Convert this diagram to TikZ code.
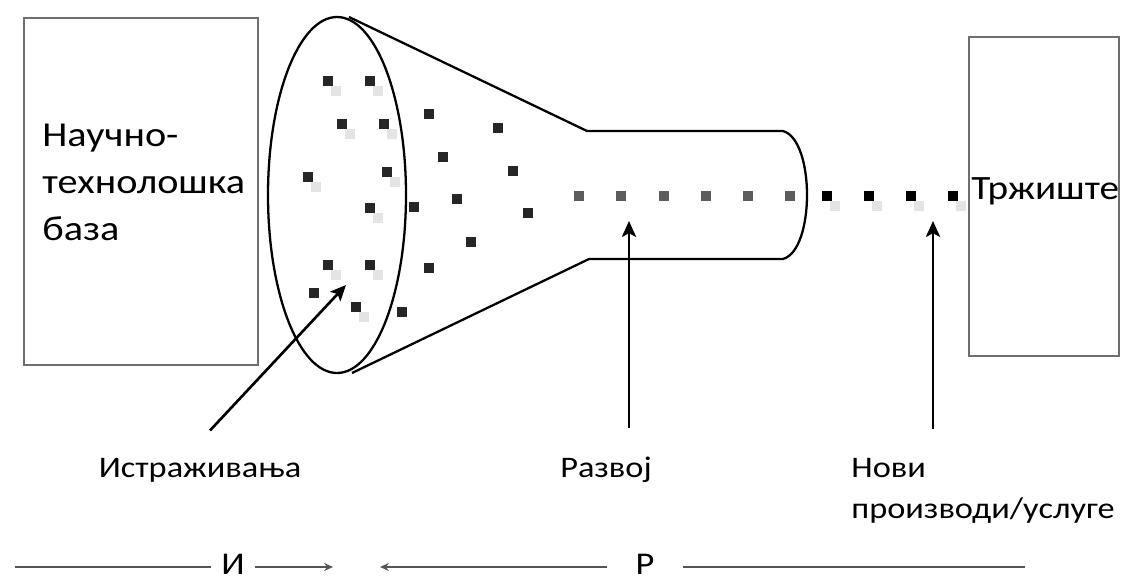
\documentclass[tikz,border=0pt]{standalone}
\usepackage{fontspec}
\setmainfont{Carlito}[FakeStretch=1.15]
\usepackage{tikz}
\usetikzlibrary{arrows.meta, positioning}
\definecolor{boxgray}{HTML}{6E6E6E}
\definecolor{dotdark}{HTML}{262626}
\definecolor{dotmid}{HTML}{5C5C5C}
\definecolor{ghost}{HTML}{E4E4E4}
\definecolor{rulegray}{HTML}{555555}

\begin{document}
\begin{tikzpicture}[x=0.02cm, y=-0.02cm,
    frame/.style={draw=boxgray, line width=0.8pt, inner sep=0pt},
    funnel/.style={draw=black, line width=1.3pt, line join=round},
    dot/.style={fill=#1, minimum size=0.2cm, inner sep=0pt},
    lbl/.style={font=\fontsize{17}{20}\selectfont, inner sep=0pt},
    ptr/.style={-{Stealth[length=9pt, width=8pt, inset=2pt]}, line width=1.5pt},
    ruleline/.style={draw=rulegray, line width=1pt},
    rulearr/.style={ruleline, -{Stealth[length=5pt, width=4.5pt]}},
]
    \useasboundingbox (0,0) rectangle (1125,584);

    % side boxes
    \node[frame, minimum width=4.68cm, minimum height=6.94cm] (base) at (141,191.5) {};
    \node[lbl, font=\fontsize{19.9}{26.6}\selectfont, align=left, anchor=base west]
        (baseTxt) at (42,240) {Научно-\\технолошка\\база};
    \node[frame, minimum width=3cm, minimum height=6.38cm] (market) at (1044,196.5) {};
    \node[lbl, font=\fontsize{19.4}{24}\selectfont, anchor=base west] (marketTxt) at (971,199) {Тржиште};

    % funnel
    \draw[funnel] (337,195) ellipse [x radius=69, y radius=178];
    \draw[funnel] (349,17) -- (587,131) -- (783,131)
        .. controls (815,140) and (815,250) .. (783,259) -- (589,259) -- (352,373);

    % dots
    \foreach \x/\y in {328/81, 370/81, 342/124, 384/124, 308/177, 387/172, 370/208,
                       328/265, 370/265, 356/307, 827/196, 869/196, 911/196, 953/196}
        \node[dot=ghost] at (\x+8,\y+10) {};
    \foreach \x/\y [count=\i] in {328/81, 370/81, 342/124, 384/124, 429/114, 498/128,
                       443/157, 308/177, 387/172, 513/171, 370/208, 414/207, 457/199,
                       528/213, 471/242, 328/265, 370/265, 429/268, 314/293, 356/307, 402/312}
        \node[dot=dotdark] (fd\i) at (\x,\y) {};
    \foreach \x [count=\i] in {579, 621, 664, 706, 748, 790}
        \node[dot=dotmid] (nd\i) at (\x,196) {};
    \foreach \x [count=\i] in {827, 869, 911, 953}
        \node[dot=black] (od\i) at (\x,196) {};

    % labels and pointers
    \node[lbl, anchor=base] (res) at (200,477) {Истраживања};
    \node[lbl, anchor=base] (dev) at (606,477) {Развој};
    \node[lbl, anchor=base west, align=left, font=\fontsize{17}{23.2}\selectfont]
        (new) at (851,518) {Нови\\производи/услуге};

    \coordinate (resTip) at (346,285);
    \coordinate (devTip) at (629,221);
    \coordinate (newTip) at (933,221);
    \draw[ptr] ([xshift=0.2cm, yshift=0.54cm]res.north) -- (resTip);
    \draw[ptr] ([yshift=0.56cm]devTip |- dev.north) -- (devTip);
    \draw[ptr] ([yshift=0.58cm]newTip |- new.north) -- (newTip);

    % I / R bar
    \node[lbl, font=\fontsize{18}{22}\selectfont, inner xsep=5.5pt] (iLbl) at (233,564) {И};
    \node[lbl, font=\fontsize{18}{22}\selectfont, inner xsep=16pt] (rLbl) at (645,564) {Р};
    \coordinate (barL) at (15,567);
    \coordinate (iEnd) at (333,567);
    \coordinate (rEnd) at (380,567);
    \coordinate (barR) at (1025,567);
    \draw[ruleline] (barL) -- (barL -| iLbl.west);
    \draw[rulearr] (iEnd -| iLbl.east) -- (iEnd);
    \draw[rulearr] (rEnd -| rLbl.west) -- (rEnd);
    \draw[ruleline] (barR -| rLbl.east) -- (barR);
\end{tikzpicture}
\end{document}
